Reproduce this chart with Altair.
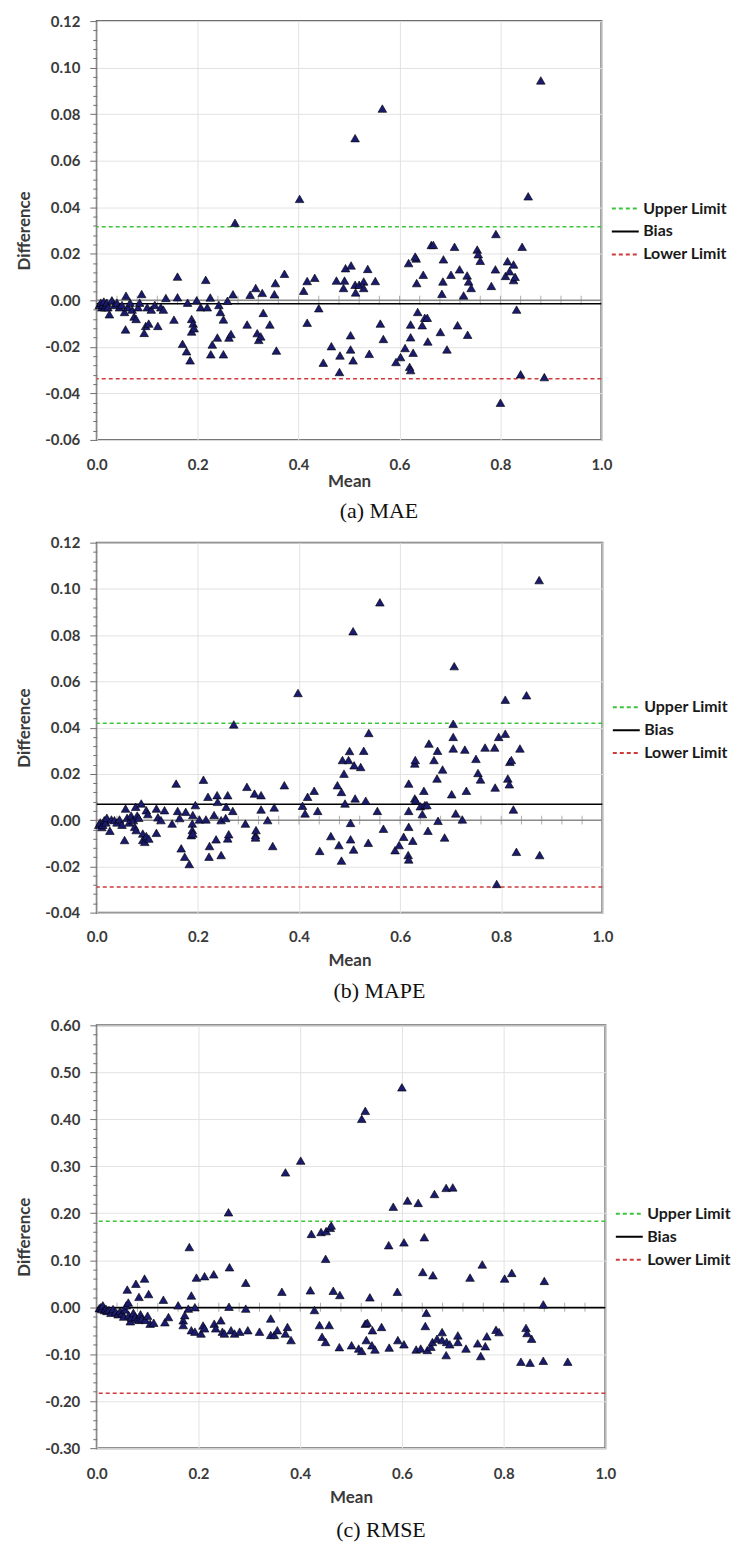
import altair as alt
import pandas as pd

# ---------------- (a) MAE ----------------
a_mean = [0.005, 0.008, 0.010, 0.012, 0.014, 0.016, 0.018, 0.020, 0.022, 0.025, 0.030, 0.035, 0.040, 0.045,
          0.050, 0.055, 0.057, 0.058, 0.062, 0.066, 0.070, 0.074, 0.078, 0.082, 0.085, 0.089, 0.094, 0.097,
          0.100, 0.103, 0.108, 0.115, 0.121, 0.127, 0.132, 0.137,
          0.153, 0.160, 0.160, 0.170, 0.178, 0.185, 0.180, 0.188, 0.191, 0.188, 0.193, 0.198, 0.206, 0.216,
          0.219, 0.225, 0.226, 0.229, 0.239, 0.242, 0.245, 0.251, 0.251, 0.259, 0.262, 0.266, 0.270, 0.274,
          0.298, 0.304, 0.315, 0.318, 0.321, 0.328, 0.330, 0.325, 0.343, 0.354, 0.352, 0.356, 0.372, 0.402,
          0.410, 0.417, 0.417, 0.432, 0.440, 0.449,
          0.489, 0.493, 0.504, 0.475, 0.491, 0.512, 0.513, 0.520, 0.529, 0.529, 0.537, 0.552, 0.512, 0.566,
          0.618, 0.633, 0.634, 0.631, 0.647, 0.663, 0.667, 0.687, 0.684, 0.686, 0.702, 0.709, 0.719, 0.727,
          0.734, 0.737, 0.742, 0.754, 0.756, 0.760, 0.782, 0.790, 0.791, 0.810, 0.814, 0.826, 0.818, 0.826,
          0.829, 0.843, 0.855, 0.880,
          0.832, 0.636, 0.562, 0.503, 0.650, 0.655, 0.622, 0.645, 0.715, 0.681, 0.735, 0.622, 0.568, 0.656,
          0.465, 0.503, 0.611, 0.694, 0.482, 0.540, 0.627, 0.602, 0.508, 0.593, 0.620, 0.622, 0.481, 0.840,
          0.887, 0.800]
a_diff = [-0.002, -0.001, -0.003, -0.002, -0.0005, -0.003, -0.002, -0.001, -0.003, -0.006, 0.0, -0.002, -0.001, -0.003,
          -0.002, -0.005, -0.0125, 0.002, -0.003, -0.001, -0.004, -0.007, -0.008, -0.003, -0.001, 0.0027, -0.014, -0.011,
          -0.003, -0.010, -0.004, -0.002, -0.011, -0.003, -0.004, 0.001,
          -0.0083, 0.0102, 0.0013, -0.0187, -0.0219, -0.0258, -0.001, -0.008, -0.010, -0.0134, -0.012, 0.0, -0.003, 0.0088,
          -0.003, 0.0012, -0.0232, -0.019, -0.016, -0.002, -0.005, -0.0082, -0.0232, -0.0002, -0.016, -0.0145, 0.0026, 0.0333,
          -0.0104, 0.0024, 0.0053, -0.0141, -0.017, 0.0032, -0.0054, -0.0155, -0.0104, 0.0074, 0.0026, -0.0216, 0.0114, 0.0436,
          0.0041, 0.0083, -0.0096, 0.0097, -0.0034, -0.0268,
          0.0053, 0.0138, 0.015, 0.0085, 0.0085, 0.0067, 0.0034, 0.0067, 0.0081, 0.0053, 0.0135, 0.0083, 0.0697, 0.0824,
          0.016, 0.018, 0.0074, 0.0188, 0.011, 0.0238, 0.0238, 0.0176, 0.0028, 0.0081, 0.011, 0.023, 0.0133, 0.0021,
          0.0107, 0.0081, 0.0053, 0.0218, 0.0198, 0.017, 0.0062, 0.0133, 0.0285, 0.0105, 0.0168, 0.0154, 0.0125, 0.0087,
          0.0101, 0.023, 0.0447, 0.0945,
          -0.004, -0.005, -0.010, -0.015, -0.0075, -0.0075, -0.0104, -0.0107, -0.0107, -0.0136, -0.0148, -0.0159, -0.0166, -0.0177,
          -0.0197, -0.0211, -0.0205, -0.0211, -0.0237, -0.023, -0.0225, -0.0244, -0.0258, -0.0265, -0.0286, -0.030, -0.0308, -0.0318,
          -0.033, -0.044]
a_limits = [0.0316, -0.0015, -0.0337]  # Upper Limit, Bias, Lower Limit

# ---------------- (b) MAPE ----------------
b_mean = [0.004, 0.007, 0.010, 0.012, 0.015, 0.018, 0.020, 0.026, 0.029, 0.035, 0.040, 0.045, 0.050, 0.055,
          0.057, 0.060, 0.064, 0.068, 0.072, 0.075, 0.077, 0.078, 0.080, 0.083, 0.088, 0.091, 0.091, 0.095,
          0.098, 0.098, 0.101, 0.103, 0.118, 0.118, 0.121, 0.127, 0.134,
          0.149, 0.157, 0.160, 0.164, 0.167, 0.174, 0.176, 0.183, 0.187, 0.189, 0.189, 0.190, 0.190, 0.195,
          0.203, 0.211, 0.216, 0.220, 0.222, 0.223, 0.232, 0.236, 0.238, 0.239, 0.246, 0.246, 0.255, 0.256,
          0.259, 0.259, 0.261, 0.269, 0.271, 0.294, 0.297, 0.312, 0.314, 0.314, 0.315, 0.325, 0.325, 0.338,
          0.348, 0.351, 0.371, 0.398, 0.407, 0.412, 0.417, 0.430, 0.437, 0.441,
          0.463, 0.476, 0.479, 0.484, 0.484, 0.486, 0.489, 0.491, 0.498, 0.500, 0.502, 0.502, 0.507, 0.508,
          0.509, 0.511, 0.522, 0.528, 0.532, 0.537, 0.538, 0.555, 0.560, 0.567, 0.590, 0.598, 0.607, 0.616,
          0.617, 0.617, 0.617, 0.617, 0.625, 0.629, 0.629, 0.630, 0.631, 0.640, 0.644, 0.647, 0.649, 0.653,
          0.655, 0.657, 0.667, 0.673, 0.674, 0.675, 0.684, 0.688, 0.702, 0.705, 0.705, 0.705, 0.707, 0.710,
          0.723, 0.728, 0.731, 0.750, 0.754, 0.759, 0.768, 0.787, 0.788, 0.791, 0.795, 0.808, 0.808, 0.813,
          0.816, 0.817, 0.820, 0.824, 0.830, 0.837, 0.850, 0.875, 0.876]
b_diff = [-0.002, -0.001, -0.003, -0.002, 0.0, -0.001, 0.001, -0.0046, 0.0003, 0.0, -0.001, 0.0003, -0.002, -0.0086,
          0.005, 0.001, -0.001, 0.002, 0.0, -0.0029, 0.0058, -0.0043, 0.002, 0.001, 0.0072, -0.0058, -0.0086, -0.0094,
          -0.0069, 0.0043, 0.0026, -0.008, 0.005, -0.0055, 0.0012, 0.0, 0.0043,
          -0.0015, 0.0158, 0.004, 0.0009, -0.0122, -0.0158, 0.0036, -0.019, -0.0065, -0.0015, -0.0043, -0.0058, 0.0022, 0.0065,
          0.0003, 0.0175, 0.0003, 0.0101, -0.0158, -0.0112, 0.0022, -0.0083, 0.0108, 0.0079, 0.0, -0.0151, 0.0009, 0.0058,
          0.0108, -0.0079, -0.0061, 0.004, 0.0414, -0.0015, 0.0144, 0.0115, -0.0065, -0.0075, -0.0043, 0.0108, 0.0046, 0.0,
          -0.0112, 0.0055, 0.0151, 0.055, 0.0062, 0.0029, 0.0101, 0.0127, 0.004, -0.0133,
          -0.0069, 0.0151, -0.0108, 0.0122, -0.0175, 0.026, 0.0201, 0.0072, 0.026, 0.0299, -0.0012, -0.0083, 0.0817, -0.0127,
          0.0237, 0.0094, 0.023, 0.030, 0.0084, -0.0098, 0.0377, 0.004, 0.0942, -0.0037, -0.013, -0.0108, -0.0072, -0.0151,
          -0.017, -0.0029, 0.004, 0.0158, -0.0089, 0.0245, 0.0094, 0.026, 0.0086, 0.006, 0.0026, 0.0127, 0.0065, 0.0065,
          -0.0046, 0.0331, 0.026, 0.018, 0.030, -0.0003, 0.0219, -0.0075, 0.0112, 0.0417, 0.036, 0.031, 0.0666, 0.0029,
          0.0003, 0.0305, 0.0127, 0.0265, 0.0204, 0.0176, 0.0314, 0.0314, 0.0141, -0.0276, 0.036, 0.0521, 0.0374, 0.018,
          0.0155, 0.0252, 0.026, 0.0046, -0.0137, 0.031, 0.054, 0.1038, -0.0151]
b_limits = [0.0419, 0.0069, -0.0289]

# ---------------- (c) RMSE ----------------
c_mean = [0.005, 0.008, 0.010, 0.012, 0.015, 0.018, 0.020, 0.024, 0.028, 0.032, 0.037, 0.042, 0.046, 0.050,
          0.053, 0.056, 0.058, 0.060, 0.062, 0.063, 0.066, 0.068, 0.072, 0.076, 0.077, 0.080, 0.083, 0.083,
          0.086, 0.089, 0.094, 0.096, 0.100, 0.102, 0.105, 0.112, 0.131, 0.134, 0.141,
          0.160, 0.170, 0.170, 0.173, 0.180, 0.182, 0.186, 0.186, 0.193, 0.193, 0.196, 0.205, 0.209, 0.212,
          0.212, 0.230, 0.231, 0.234, 0.244, 0.247, 0.251, 0.259, 0.260, 0.261, 0.264, 0.271, 0.281, 0.293,
          0.293, 0.297, 0.320, 0.342, 0.342, 0.349, 0.355, 0.364, 0.371, 0.371, 0.375, 0.382, 0.401, 0.420,
          0.422, 0.428, 0.438, 0.441, 0.443, 0.450, 0.450, 0.451, 0.457, 0.459, 0.461, 0.465, 0.478, 0.477,
          0.501, 0.515, 0.521, 0.521, 0.528, 0.528, 0.530, 0.532, 0.537, 0.541, 0.542, 0.547, 0.560, 0.574,
          0.575, 0.583, 0.591, 0.592, 0.600, 0.604, 0.604, 0.611, 0.628, 0.632, 0.637, 0.641, 0.644, 0.646,
          0.648, 0.650, 0.657, 0.660, 0.661, 0.664, 0.669, 0.679, 0.679, 0.687, 0.687, 0.688, 0.694, 0.700,
          0.710, 0.710, 0.726, 0.734, 0.749, 0.755, 0.758, 0.764, 0.767, 0.785, 0.791, 0.802, 0.816, 0.834,
          0.844, 0.846, 0.852, 0.855, 0.878, 0.878, 0.880, 0.926]
c_diff = [-0.002, 0.0, -0.004, 0.004, -0.006, -0.003, -0.008, -0.006, -0.012, -0.004, -0.010, -0.015, -0.008, -0.013,
          -0.020, -0.005, 0.004, 0.0375, 0.010, -0.017, -0.030, -0.022, -0.012, -0.020, 0.050, -0.025, 0.022, -0.027,
          -0.015, -0.024, 0.061, -0.027, -0.018, 0.028, -0.035, -0.033, 0.016, -0.032, -0.021,
          0.004, -0.028, -0.038, -0.017, -0.003, 0.128, 0.025, -0.049, 0.0, -0.052, 0.063, -0.056, -0.039, 0.066,
          -0.045, 0.070, -0.035, -0.045, -0.028, -0.052, -0.056, 0.202, 0.001, 0.085, -0.049, -0.056, -0.052, 0.052,
          -0.003, -0.049, -0.052, -0.024, -0.059, -0.059, -0.049, 0.033, 0.287, -0.056, -0.042, -0.070, 0.312, 0.036,
          0.156, -0.006, -0.038, 0.160, -0.063, 0.103, -0.074, 0.162, -0.038, 0.169, 0.174, 0.035, 0.026, -0.085,
          -0.081, -0.088, -0.093, 0.401, 0.418, -0.035, -0.070, -0.033, 0.021, -0.081, -0.049, -0.090, -0.042, 0.132,
          -0.086, 0.214, 0.033, -0.070, 0.468, 0.138, -0.079, 0.227, -0.090, 0.222, -0.088, 0.075, 0.149, -0.040,
          -0.012, -0.091, -0.084, -0.074, 0.068, 0.241, -0.067, -0.053, -0.070, 0.254, -0.102, -0.074, -0.079, 0.255,
          -0.060, -0.074, -0.088, 0.063, -0.077, -0.104, 0.091, -0.083, -0.062, -0.048, -0.053, 0.061, 0.073, -0.116,
          -0.044, -0.055, -0.118, -0.067, 0.006, -0.114, 0.056, -0.116]
c_limits = [0.183, -0.001, -0.183]

series_names = ["Upper Limit", "Bias", "Lower Limit"]
series_colors = ["#3cc43c", "#000000", "#d03a3a"]
series_dash = [[4, 3], [1, 0], [4, 3]]
x_ticks = [0.0, 0.2, 0.4, 0.6, 0.8, 1.0]
x_minor = [round(0.04 * i, 2) for i in range(1, 25)]

FONT = "Lato"
TXT = "#3a3a3a"
GRID = "#e2e2e2"


def panel(mean, diff, limits, ymin, ymax, ystep, width, height, caption, legend_y,
          xlab_pad, xtitle_pad, cap_offset):
    minor = ystep / 5
    n = int(round((ymax - ymin) / minor))
    yvals = [round(ymin + i * minor, 5) for i in range(n + 1)]
    yvals = [0.0 if abs(v) < 1e-9 else v for v in yvals]
    test = f"abs(datum.value/{ystep} - round(datum.value/{ystep})) < 0.001"
    yaxis = alt.Axis(
        values=yvals,
        labelExpr=f"{test} ? replace(format(datum.value, '.2f'), '\u2212', '-') : ''",
        labelOverlap=False, labelFlush=False,
        grid=True, gridColor=GRID,
        gridOpacity={"condition": {"test": test, "value": 1}, "value": 0},
        tickSize={"condition": {"test": test, "value": 7}, "value": 4},
        tickColor="#707070", domain=False,
        labelFont=FONT, labelFontWeight="bold", labelFontSize=15, labelColor=TXT, labelPadding=10,
        title="Difference", titleFont=FONT, titleFontWeight="bold", titleFontSize=17,
        titleColor=TXT, titlePadding=11,
    )
    xaxis = alt.Axis(
        values=x_ticks, format=".1f", grid=True, gridColor=GRID, ticks=False, domain=False,
        labelFlush=False, labelFont=FONT, labelFontWeight="bold", labelFontSize=15, labelColor=TXT,
        labelPadding=xlab_pad, title="Mean", titleFont=FONT, titleFontWeight="bold", titleFontSize=17,
        titleColor=TXT, titlePadding=xtitle_pad,
    )
    yscale = alt.Scale(domain=[ymin, ymax], nice=False, zero=False)
    xscale = alt.Scale(domain=[0, 1], nice=False)

    def Y(field):
        return alt.Y(f"{field}:Q", scale=yscale, axis=yaxis, title="Difference")

    def X(field):
        return alt.X(f"{field}:Q", scale=xscale, axis=xaxis, title="Mean")

    pts_df = pd.DataFrame({"mean": mean, "diff": diff})
    lim_df = pd.DataFrame({"series": series_names, "diff": limits})
    zero_df = pd.DataFrame({"diff": [0.0]})
    tick_df = pd.DataFrame({"mean": x_minor, "diff": [0.0] * len(x_minor)})

    legend = alt.Legend(
        orient="none", legendX=width + 14, legendY=legend_y, title=None,
        symbolType="M-1.5,0H1.5", symbolSize=324, symbolStrokeWidth=2,
        labelFont=FONT, labelFontWeight="bold", labelFontSize=16, labelColor="#1a1a1a",
        labelOffset=8, rowPadding=5,
    )

    zero = alt.Chart(zero_df).mark_rule(color="#8a8a8a", strokeWidth=1.5).encode(y=Y("diff"))
    ticks = alt.Chart(tick_df).mark_tick(orient="vertical", color="#8a8a8a", size=9, thickness=1).encode(
        x=X("mean"), y=Y("diff"))
    lims = alt.Chart(lim_df).mark_rule(strokeWidth=1.6).encode(
        y=Y("diff"),
        color=alt.Color("series:N", scale=alt.Scale(domain=series_names, range=series_colors), legend=legend),
        strokeDash=alt.StrokeDash("series:N", scale=alt.Scale(domain=series_names, range=series_dash), legend=legend),
    )
    pts = alt.Chart(pts_df).mark_point(
        shape="triangle-up", filled=True, fill="#1b1b6e", stroke="#000000", strokeWidth=0.6,
        size=75, opacity=1,
    ).encode(x=X("mean"), y=Y("diff"))

    return alt.layer(zero, ticks, lims, pts).properties(
        width=width, height=height,
        title=alt.TitleParams(caption, orient="bottom", font="Liberation Serif", fontSize=22,
                              fontWeight="normal", color="#111111", offset=cap_offset, dx=30,
                              anchor="middle"),
    )


pa = panel(a_mean, a_diff, a_limits, -0.06, 0.12, 0.02, 506, 420, "(a) MAE", 178, 18, 1, 11)
pb = panel(b_mean, b_diff, b_limits, -0.04, 0.12, 0.02, 507, 371, "(b) MAPE", 155, 17, 8, 13)
pc = panel(c_mean, c_diff, c_limits, -0.30, 0.60, 0.10, 510, 424, "(c) RMSE", 179, 18, 9, 14)

top = alt.vconcat(pa, pb, spacing=12).resolve_scale(color="independent", strokeDash="independent")
chart = alt.vconcat(top, pc, spacing=14).resolve_scale(
    color="independent", strokeDash="independent"
).configure_view(stroke="#6e6e6e", strokeWidth=2).properties(
    padding={"left": 6, "top": 3, "right": 0, "bottom": 5}
)

chart.save("out.html", embed_options={"renderer": "svg", "actions": False})
